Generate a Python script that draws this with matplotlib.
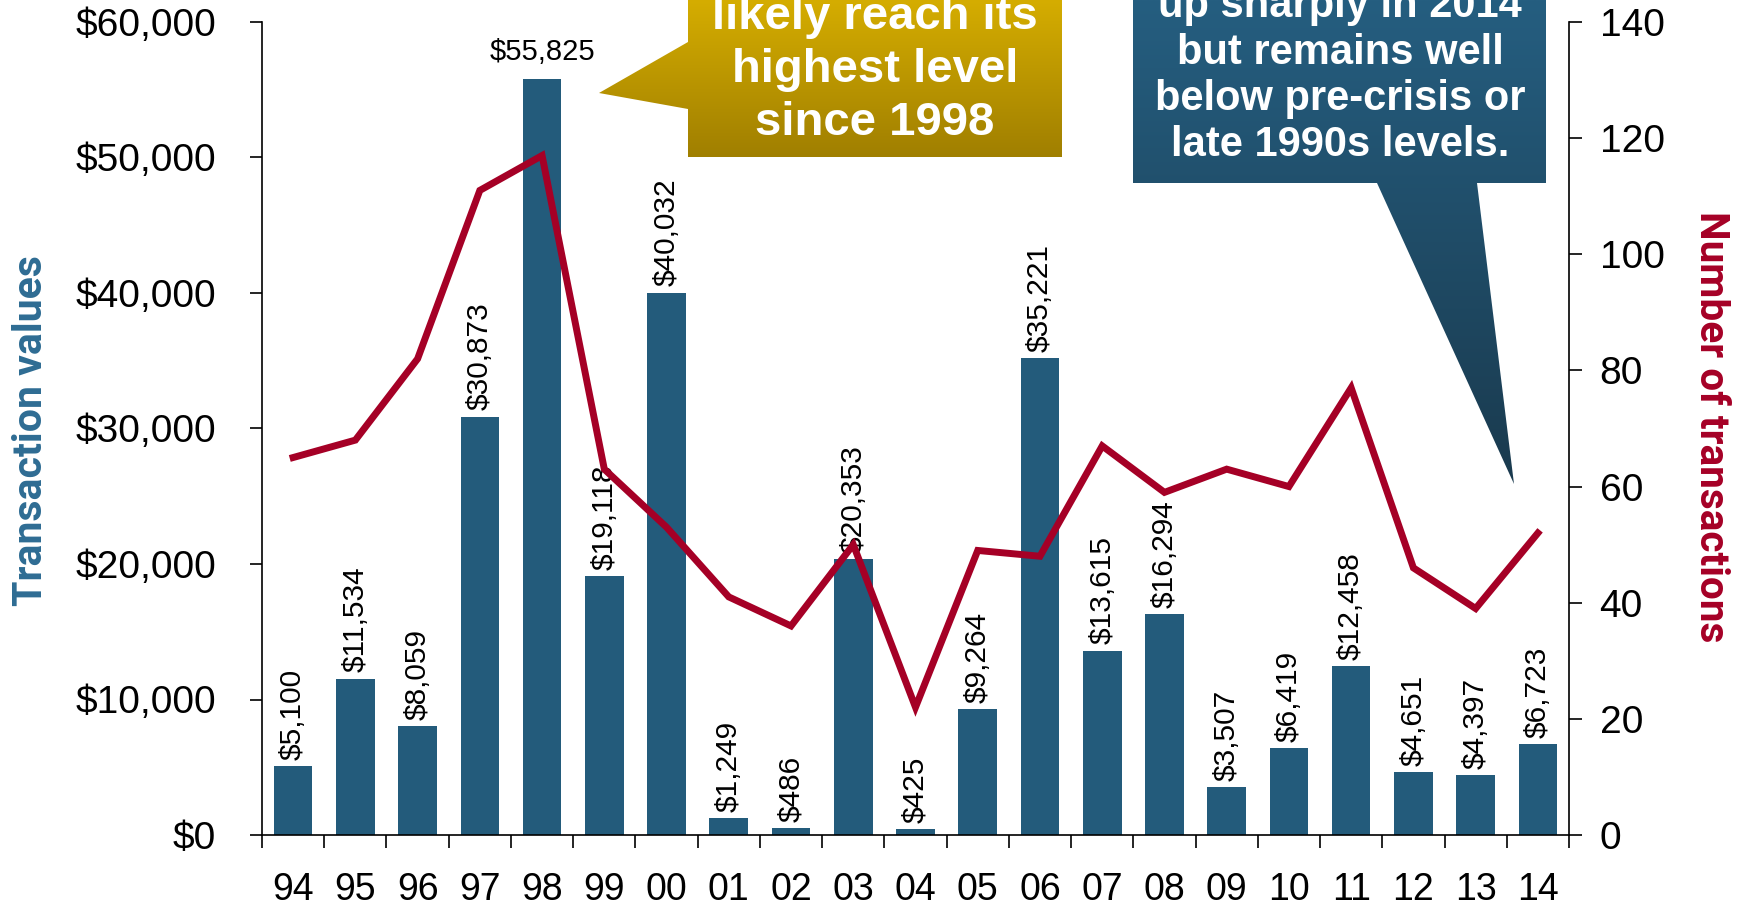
import numpy as np
import matplotlib
matplotlib.use("Agg")
import matplotlib.pyplot as plt
from matplotlib import font_manager
from matplotlib.patches import Polygon
from matplotlib.ticker import FuncFormatter
from matplotlib.colors import to_rgb

# ---- data -------------------------------------------------------------
years = ["94", "95", "96", "97", "98", "99", "00", "01", "02", "03", "04",
         "05", "06", "07", "08", "09", "10", "11", "12", "13", "14"]
values = [5100, 11534, 8059, 30873, 55825, 19118, 40032, 1249, 486, 20353,
          425, 9264, 35221, 13615, 16294, 3507, 6419, 12458, 4651, 4397, 6723]
counts = [65, 68, 82, 111, 117, 63, 53, 41, 36, 50, 22, 49, 48, 67, 59, 63,
          60, 77, 46, 39, 52]
value_ticks = [0, 10000, 20000, 30000, 40000, 50000, 60000]
count_ticks = [0, 20, 40, 60, 80, 100, 120, 140]

gold_lines = ["likely reach its", "highest level", "since 1998"]
blue_lines = ["up sharply in 2014", "but remains well",
              "below pre-crisis or", "late 1990s levels."]

# ---- style --------------------------------------------------------------
BAR = "#235B7B"
LINE = "#A50026"
LEFT_LBL = "#2E6C93"
BASE_FONT = "Liberation Sans"
installed = {f.name for f in font_manager.fontManager.ttflist}
NARROW = "Liberation Sans Narrow" if "Liberation Sans Narrow" in installed else "Roboto"
plt.rcParams["font.family"] = [BASE_FONT, "DejaVu Sans"]

W, H = 1739, 907
fig = plt.figure(figsize=(W / 100, H / 100), dpi=100)
ax = fig.add_axes([262 / W, 1 - 835 / H, (1569 - 262) / W, (835 - 22) / H])

x = np.arange(len(years))
ax.bar(x, values, width=0.62, color=BAR, zorder=2)
ax.set_xlim(-0.5, len(years) - 0.5)
ax.set_ylim(value_ticks[0], value_ticks[-1])
ax.set_yticks(value_ticks)
ax.yaxis.set_major_formatter(FuncFormatter(lambda v, _: f"${v:,.0f}"))

# category boundaries carry the tick marks, centres carry the labels
ax.set_xticks(np.arange(-0.5, len(years), 1.0))
ax.set_xticklabels([])
ax.set_xticks(x, minor=True)
ax.set_xticklabels(years, minor=True)
ax.tick_params(axis="x", which="major", direction="out", length=9, width=1.2)
ax.tick_params(axis="x", which="minor", length=0, pad=27, labelsize=27)
ax.tick_params(axis="y", direction="out", length=9, width=1.2, pad=24,
               labelsize=28)

for side in ("top", "right"):
    ax.spines[side].set_visible(False)
for side in ("left", "bottom"):
    ax.spines[side].set_linewidth(1.2)

# value labels above each bar
for xi, v in zip(x, values):
    if v > 50000:
        ax.annotate(f"${v:,}", (xi, v), xytext=(0, 13.5),
                    textcoords="offset points", ha="center", va="baseline",
                    fontsize=21)
    else:
        ax.annotate(f"${v:,}", (xi, v), xytext=(0, 4.5),
                    textcoords="offset points", ha="center", va="bottom",
                    rotation=90, fontsize=21.5)

# number of transactions on the secondary axis
ax2 = ax.twinx()
ax2.plot(x, counts, color=LINE, lw=5, solid_joinstyle="miter", zorder=3)
ax2.set_ylim(count_ticks[0], count_ticks[-1])
ax2.set_yticks(count_ticks)
ax2.tick_params(axis="y", direction="out", length=9, width=1.2, pad=13,
                labelsize=28)
for side in ("top", "left", "bottom"):
    ax2.spines[side].set_visible(False)
ax2.spines["right"].set_linewidth(1.2)

fig.text(31 / W, 1 - 431 / H, "Transaction values", rotation=90,
         ha="center", va="center", fontsize=29.5, fontweight="bold",
         color=LEFT_LBL, family=[NARROW, "DejaVu Sans"])
fig.text(1711 / W, 1 - 427 / H, "Number of transactions", rotation=270,
         ha="center", va="center", fontsize=29.2, fontweight="bold",
         color=LINE, family=[NARROW, "DejaVu Sans"])

# ---- callouts drawn in pixel space on an overlay ------------------------
ov = fig.add_axes([0, 0, 1, 1], zorder=10)
ov.set_xlim(0, W)
ov.set_ylim(H, 0)
ov.axis("off")
ov.patch.set_alpha(0)


def gradient_shape(verts, top_color, bottom_color):
    xs = [p[0] for p in verts]
    ys = [p[1] for p in verts]
    y0, y1 = 0, max(ys)
    t = np.linspace(0, 1, 256)[:, None, None]
    c0 = np.array(to_rgb(top_color))[None, None, :]
    c1 = np.array(to_rgb(bottom_color))[None, None, :]
    img = c0 * (1 - t) + c1 * t
    poly = Polygon(verts, closed=True, facecolor="none", edgecolor="none")
    ov.add_patch(poly)
    im = ov.imshow(img, extent=(min(xs), max(xs), y1, y0), origin="upper",
                   aspect="auto", interpolation="bilinear", zorder=1)
    im.set_clip_path(poly)


gold_shape = [(688, -60), (1062, -60), (1062, 157), (688, 157), (688, 109),
              (599, 93), (688, 42)]
gradient_shape(gold_shape, "#D5AD00", "#A07F00")
for i, line in enumerate(gold_lines):
    ov.text(875, 29 + 53 * i, line, ha="center", va="baseline", color="white",
            fontsize=34, fontweight="bold", zorder=2)

blue_shape = [(1133, -60), (1546, -60), (1546, 183), (1477, 183),
              (1514, 484), (1377, 183), (1133, 183)]
gradient_shape(blue_shape, "#255E80", "#1A3A4E")
for i, line in enumerate(blue_lines):
    ov.text(1340, 17 + 46.5 * i, line, ha="center", va="baseline",
            color="white", fontsize=30, fontweight="bold", zorder=2)

fig.savefig("out.png", dpi=100)
